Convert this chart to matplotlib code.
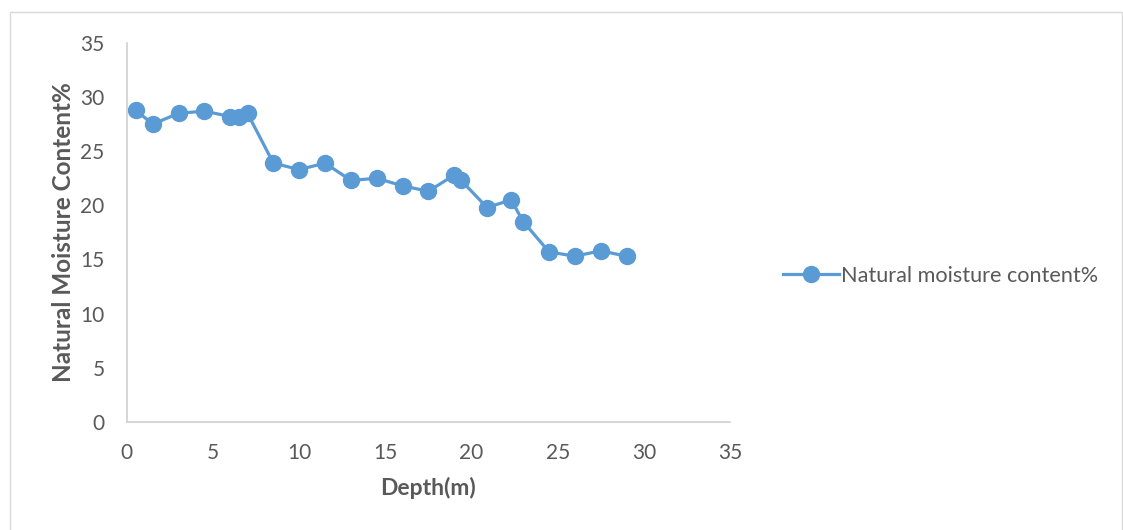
import matplotlib.pyplot as plt
from matplotlib.patches import Rectangle

depth = [0.5, 1.5, 3, 4.5, 6, 6.5, 7, 8.5, 10, 11.5, 13, 14.5, 16, 17.5,
         19, 19.4, 20.9, 22.3, 23, 24.5, 26, 27.5, 29]
moisture = [28.8, 27.5, 28.5, 28.7, 28.2, 28.2, 28.5, 23.9, 23.3, 23.9, 22.3, 22.5,
            21.8, 21.3, 22.8, 22.3, 19.8, 20.5, 18.5, 15.7, 15.3, 15.8, 15.3]

blue = '#5B9BD5'
grey = '#595959'

plt.rcParams['font.family'] = ['Lato', 'DejaVu Sans']

fig = plt.figure(figsize=(11.23, 5.30), dpi=100)
ax = fig.add_axes([0.113, 0.204, 0.537, 0.715])

ax.plot(depth, moisture, '-o', color=blue, lw=2.3, ms=11.5,
        label='Natural moisture content%')

ax.set_xlim(0, 35)
ax.set_ylim(0, 35)
ax.set_xticks(range(0, 36, 5))
ax.set_yticks(range(0, 36, 5))
ax.tick_params(length=0, labelsize=15, colors=grey)
ax.tick_params(axis='x', pad=15)
ax.tick_params(axis='y', pad=16)

for s in ['top', 'right']:
    ax.spines[s].set_visible(False)
for s in ['left', 'bottom']:
    ax.spines[s].set_color('#d0d0d0')
    ax.spines[s].set_linewidth(1.2)

ax.set_xlabel('Depth(m)', fontsize=16.5, fontweight='bold', color=grey, labelpad=10)
ax.set_ylabel('Natural Moisture Content%', fontsize=17.5, fontweight='bold', color=grey, labelpad=4)

ax.legend(loc='center left', bbox_to_anchor=(1.055, 0.385), frameon=False,
          fontsize=15.6, labelcolor=grey, handlelength=2.6, handletextpad=0.1)

fig.patches.append(Rectangle((0.009, -0.01), 0.99, 0.987, transform=fig.transFigure,
                             fill=False, edgecolor='#d9d9d9', lw=1))

fig.savefig('out.png', dpi=100)
